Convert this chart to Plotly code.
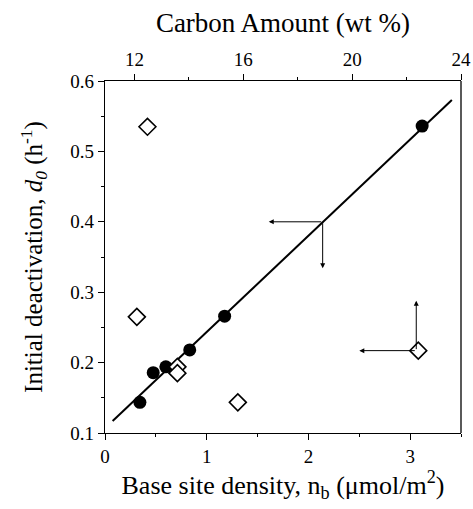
import plotly.graph_objects as go

# Filled circles: base site density (bottom axis) vs d0
nb = [0.343, 0.474, 0.598, 0.833, 1.176, 3.118]
d0_nb = [0.1436, 0.1857, 0.194, 0.218, 0.266, 0.536]

# Open diamonds: carbon amount (top axis) vs d0
carbon = [12.48, 12.09, 13.58, 13.58, 15.80, 22.43]
d0_c = [0.535, 0.265, 0.194, 0.185, 0.1436, 0.217]

# Linear fit line (bottom axis)
fit_x = [0.075, 3.41]
fit_y = [0.117, 0.573]

# Arrows: (tail_x, tail_y, tip_x, tip_y) in bottom-axis/y data units
arrows = [
    (2.14, 0.400, 1.61, 0.400),
    (2.14, 0.400, 2.14, 0.334),
    (3.06, 0.217, 2.50, 0.217),
    (3.06, 0.217, 3.06, 0.288),
]

FONT = "Liberation Serif"

fig = go.Figure()
fig.add_trace(go.Scatter(x=fit_x, y=fit_y, mode="lines",
                         line=dict(color="black", width=2), showlegend=False))
fig.add_trace(go.Scatter(x=nb, y=d0_nb, mode="markers",
                         marker=dict(symbol="circle", size=13, color="black"),
                         showlegend=False))
fig.add_trace(go.Scatter(x=carbon, y=d0_c, mode="markers", xaxis="x2",
                         marker=dict(symbol="diamond", size=13, color="white",
                                     line=dict(color="black", width=1.6)),
                         showlegend=False))

for tx, ty, hx, hy in arrows:
    fig.add_annotation(x=hx, y=hy, ax=tx, ay=ty, xref="x", yref="y",
                       axref="x", ayref="y", showarrow=True, arrowhead=2,
                       arrowsize=1, arrowwidth=1, arrowcolor="black", text="")

# right frame line
fig.add_shape(type="line", xref="paper", yref="paper", x0=1, x1=1, y0=0, y1=1,
              line=dict(color="black", width=1.3))

axis_common = dict(showline=True, linecolor="black", linewidth=1.3,
                   ticks="outside", ticklen=6, tickwidth=1, tickcolor="black",
                   showgrid=False, zeroline=False, automargin=False,
                   tickfont=dict(family=FONT, size=19, color="black"))

fig.update_layout(
    width=473, height=509,
    margin=dict(l=105, r=12, t=81, b=76),
    paper_bgcolor="white", plot_bgcolor="white",
    font=dict(family=FONT, color="black"),
    xaxis=dict(range=[0, 3.5], tickvals=[0, 1, 2, 3],
               minor=dict(tickvals=[0.5, 1.5, 2.5, 3.5], ticklen=3, ticks="outside",
                          tickcolor="black"),
               title=dict(text="Base site density, n<sub>b</sub> (μmol/m<sup>2</sup>)",
                          font=dict(family=FONT, size=26), standoff=0),
               **axis_common),
    xaxis2=dict(range=[10.92, 24], overlaying="x", side="top",
                tickvals=[12, 16, 20, 24],
                minor=dict(tickvals=[14, 18, 22], ticklen=3, ticks="outside",
                           tickcolor="black"),
                title=dict(text="Carbon Amount (wt %)",
                           font=dict(family=FONT, size=27), standoff=8),
                **axis_common),
    yaxis=dict(range=[0.1, 0.6], tickvals=[0.1, 0.2, 0.3, 0.4, 0.5, 0.6],
               tickformat=".1f",
               minor=dict(tickvals=[0.15, 0.25, 0.35, 0.45, 0.55], ticklen=3,
                          ticks="outside", tickcolor="black"),
               title=dict(text="Initial deactivation, <i>d<sub>0</sub></i> (h<sup>-1</sup>)",
                          font=dict(family=FONT, size=25), standoff=20),
               **axis_common),
)

fig.write_html("out.html")
